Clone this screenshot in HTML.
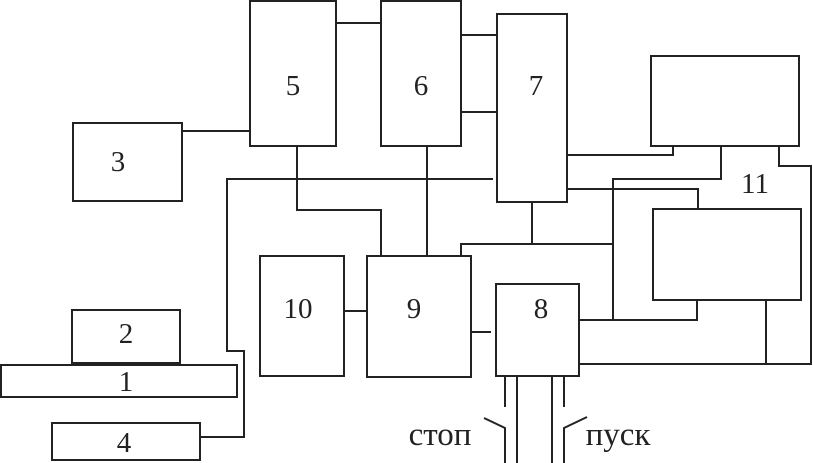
<!DOCTYPE html>
<html><head><meta charset="utf-8"><style>
html,body{margin:0;padding:0;background:#fff;}
svg{display:block;}
text{font-family:"Liberation Serif","DejaVu Serif",serif;font-size:29px;fill:#222;}
</style></head><body>
<svg width="813" height="463" viewBox="0 0 813 463" xmlns="http://www.w3.org/2000/svg">
<g fill="none" stroke="#222" stroke-width="2">
<rect x="250" y="1" width="86" height="145"/>
<rect x="381" y="1" width="80" height="145"/>
<rect x="497" y="14" width="70" height="188"/>
<rect x="651" y="56" width="148" height="90"/>
<rect x="653" y="209" width="148" height="91"/>
<rect x="73" y="123" width="109" height="78"/>
<rect x="72" y="310" width="108" height="53"/>
<rect x="1" y="365" width="236" height="32"/>
<rect x="52" y="423" width="148" height="37"/>
<rect x="260" y="256" width="84" height="120"/>
<rect x="367" y="256" width="104" height="121"/>
<rect x="496" y="284" width="83" height="92"/>
<polyline points="182,131 250,131"/>
<polyline points="336,23 381,23"/>
<polyline points="461,35 497,35"/>
<polyline points="461,112 497,112"/>
<polyline points="344,311 367,311"/>
<polyline points="471,332 491,332"/>
<polyline points="567,155 673,155 673,146"/>
<polyline points="721,146 721,179 613,179 613,320"/>
<polyline points="579,320 697,320 697,300"/>
<polyline points="567,189 698,189 698,209"/>
<polyline points="779,146 779,166 811,166 811,364 579,364"/>
<polyline points="766,300 766,364"/>
<polyline points="532,202 532,244"/>
<polyline points="461,256 461,244 613,244"/>
<polyline points="493,179 227,179 227,351 244,351 244,437 200,437"/>
<polyline points="427,146 427,256"/>
<polyline points="297,146 297,210 381,210 381,256"/>
<polyline points="505,376 505,407"/>
<polyline points="517,376 517,463"/>
<polyline points="552,376 552,463"/>
<polyline points="564,376 564,407"/>
<polyline points="484,418 505,428 505,463"/>
<polyline points="587,417 564,428 564,463"/>
</g>
<text x="293" y="95" text-anchor="middle">5</text>
<text x="421" y="95" text-anchor="middle">6</text>
<text x="536" y="95" text-anchor="middle">7</text>
<text x="118" y="171" text-anchor="middle">3</text>
<text x="126" y="343" text-anchor="middle">2</text>
<text x="126" y="391" text-anchor="middle">1</text>
<text x="124" y="452" text-anchor="middle">4</text>
<text x="298" y="318" text-anchor="middle">10</text>
<text x="414" y="318" text-anchor="middle">9</text>
<text x="541" y="318" text-anchor="middle">8</text>
<text x="755" y="193" text-anchor="middle">11</text>
<text x="440" y="445" text-anchor="middle" style="font-size:33px">стоп</text>
<text x="618" y="445" text-anchor="middle" style="font-size:33px">пуск</text>
</svg>
</body></html>
